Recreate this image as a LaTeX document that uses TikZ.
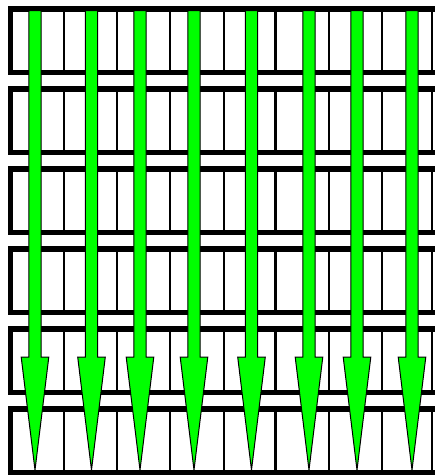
\documentclass[tikz,border=0pt]{standalone}
\begin{document}
\begin{tikzpicture}[x=1pt,y=-1pt]
\tikzset{
  rowbox/.style={draw=black, line width=5.5pt},
  divider/.style={draw=black, line width=2.5pt},
  garrow/.style={fill=green, draw=black, line width=1pt, line join=miter}
}
\clip (0,0) rectangle (435,475);
\fill[white] (0,0) rectangle (435,475);
\foreach \r in {0,...,5}{
  \pgfmathsetmacro\yt{9+80*\r}
  \pgfmathsetmacro\yb{72.5+80*\r}
  \foreach \xx in {64,117,170,224,275.5,329,382,432}{
    \draw[divider] (\xx,\yt) -- (\xx,\yb);
  }
  \draw[rowbox] (10.5,\yt) rectangle (470,\yb);
}
\foreach \c in {35,91.5,140,194,251.5,309,357,412}{
  \draw[garrow] (\c-6.2,10.5) -- (\c+6.2,10.5) -- (\c+6.2,357) -- (\c+13.8,357)
     -- (\c,470) -- (\c-13.8,357) -- (\c-6.2,357) -- cycle;
}
\end{tikzpicture}
\end{document}
